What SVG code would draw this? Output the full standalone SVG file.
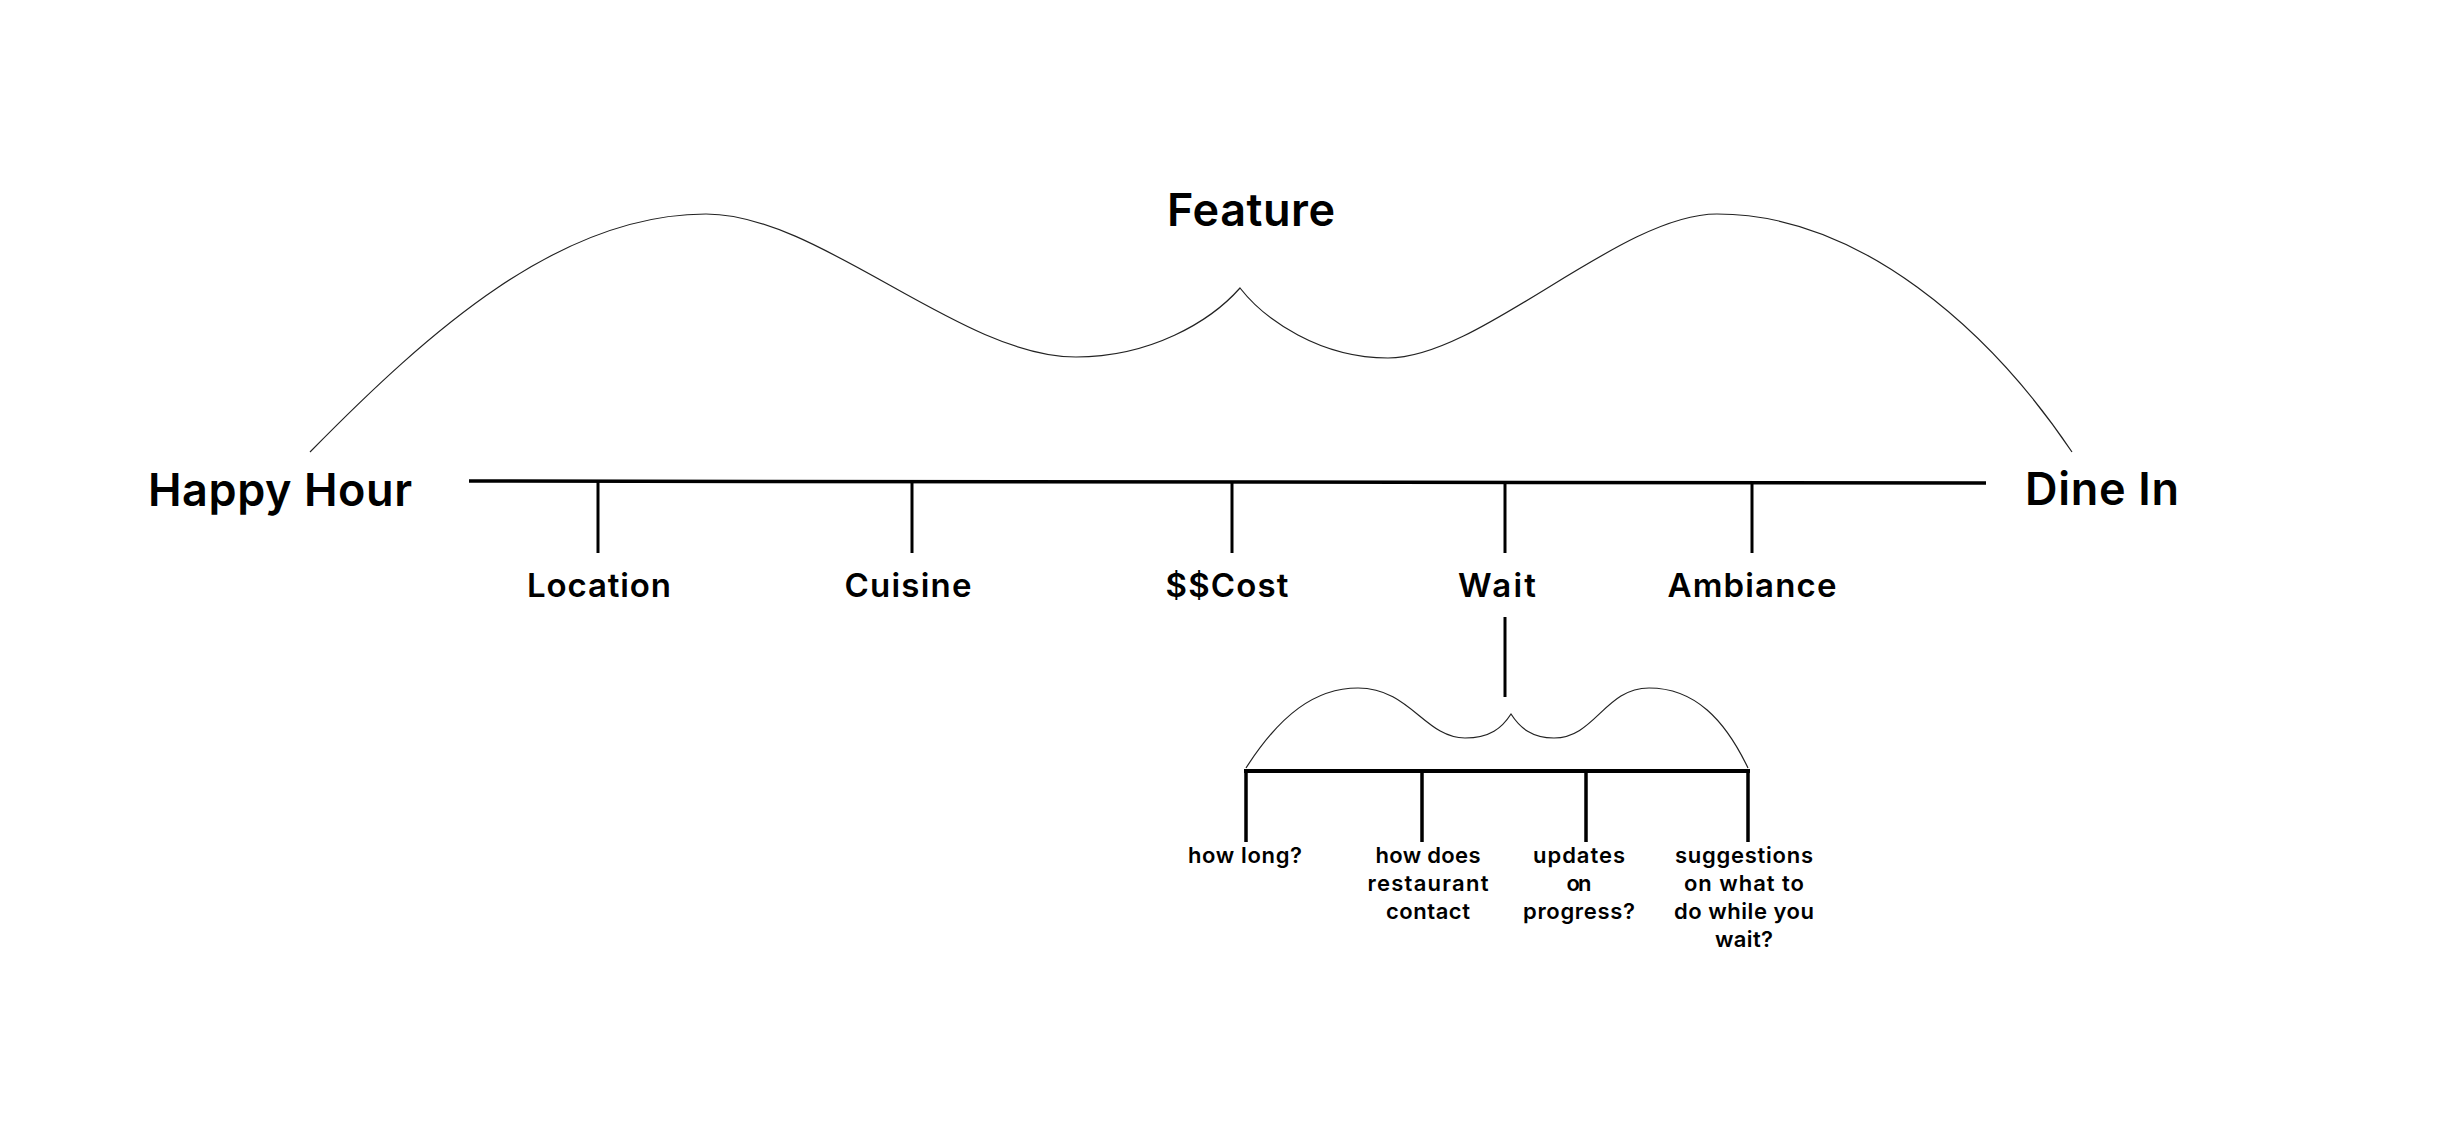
<svg xmlns="http://www.w3.org/2000/svg" width="2452" height="1137" viewBox="0 0 2452 1137">
<style>
.big{font-family:Inter,"Liberation Sans",sans-serif;font-weight:600;font-size:45px;fill:#000;text-anchor:middle}
.mid{font-family:Inter,"Liberation Sans",sans-serif;font-weight:600;font-size:33px;fill:#000;text-anchor:middle}
.small{font-family:Inter,"Liberation Sans",sans-serif;font-weight:600;font-size:22px;fill:#000;text-anchor:middle}
.thick{stroke:#000;stroke-width:3.5;fill:none}
.tick{stroke:#000;stroke-width:3;fill:none}
.brace{stroke:#222;stroke-width:1.2;fill:none}
</style>
<rect width="2452" height="1137" fill="#fff"/>
<g id="connectors">
<path class="brace" d="M310,452 C430,330 560,214 706,214 C820,214 960,357 1076,357 C1150,357 1210,322 1240,288 C1265,320 1320,358 1388,358 C1480,358 1620,214 1717,214 C1860,214 1990,330 2072,452"/>
<line class="thick" x1="469" y1="481" x2="1986" y2="483"/>
<line class="tick" x1="598" y1="482" x2="598" y2="553"/>
<line class="tick" x1="912" y1="482" x2="912" y2="553"/>
<line class="tick" x1="1232" y1="482" x2="1232" y2="553"/>
<line class="tick" x1="1505" y1="482" x2="1505" y2="553"/>
<line class="tick" x1="1752" y1="483" x2="1752" y2="553"/>
<line class="tick" x1="1505" y1="617" x2="1505" y2="697"/>
<path class="brace" d="M1246,768 C1280,715 1315,688 1358,688 C1410,688 1425,738 1465,738 C1490,738 1502,728 1511,714 C1520,728 1532,738 1554,738 C1595,738 1605,688 1649,688 C1695,688 1725,720 1748,768"/>
<line class="thick" x1="1244" y1="771" x2="1750" y2="771" style="stroke-width:4"/>
<line class="tick" x1="1246" y1="771" x2="1246" y2="842" style="stroke-width:3.5"/>
<line class="tick" x1="1422" y1="771" x2="1422" y2="842" style="stroke-width:3.5"/>
<line class="tick" x1="1586" y1="771" x2="1586" y2="842" style="stroke-width:3.5"/>
<line class="tick" x1="1748" y1="771" x2="1748" y2="842" style="stroke-width:3.5"/>
</g>
<g id="feature"><text class="big" x="1251" y="226" textLength="168" lengthAdjust="spacing">Feature</text></g>
<g id="happy-hour"><text class="big" x="280" y="506" textLength="264" lengthAdjust="spacing">Happy Hour</text></g>
<g id="dine-in"><text class="big" x="2102" y="505" textLength="154" lengthAdjust="spacing">Dine In</text></g>
<g id="location"><text class="mid" x="599" y="597" textLength="144" lengthAdjust="spacing">Location</text></g>
<g id="cuisine"><text class="mid" x="908" y="597" textLength="127" lengthAdjust="spacing">Cuisine</text></g>
<g id="cost"><text class="mid" x="1227" y="597" textLength="123" lengthAdjust="spacing">$$Cost</text></g>
<g id="wait"><text class="mid" x="1497" y="597" textLength="78" lengthAdjust="spacing">Wait</text></g>
<g id="ambiance"><text class="mid" x="1752" y="597" textLength="169" lengthAdjust="spacing">Ambiance</text></g>
<g id="how-long"><text class="small" x="1245" y="863" textLength="114" lengthAdjust="spacing">how long?</text></g>
<g id="how-does"><text class="small"><tspan x="1428" y="863" textLength="105" lengthAdjust="spacing">how does</tspan><tspan x="1428" y="891" textLength="121" lengthAdjust="spacing">restaurant</tspan><tspan x="1428" y="919" textLength="84" lengthAdjust="spacing">contact</tspan></text></g>
<g id="updates"><text class="small"><tspan x="1579" y="863" textLength="92" lengthAdjust="spacing">updates</tspan><tspan x="1579" y="891" textLength="25" lengthAdjust="spacing">on</tspan><tspan x="1579" y="919" textLength="112" lengthAdjust="spacing">progress?</tspan></text></g>
<g id="suggestions"><text class="small"><tspan x="1744" y="863" textLength="138" lengthAdjust="spacing">suggestions</tspan><tspan x="1744" y="891" textLength="120" lengthAdjust="spacing">on what to</tspan><tspan x="1744" y="919" textLength="140" lengthAdjust="spacing">do while you</tspan><tspan x="1744" y="947" textLength="58" lengthAdjust="spacing">wait?</tspan></text></g>
</svg>
